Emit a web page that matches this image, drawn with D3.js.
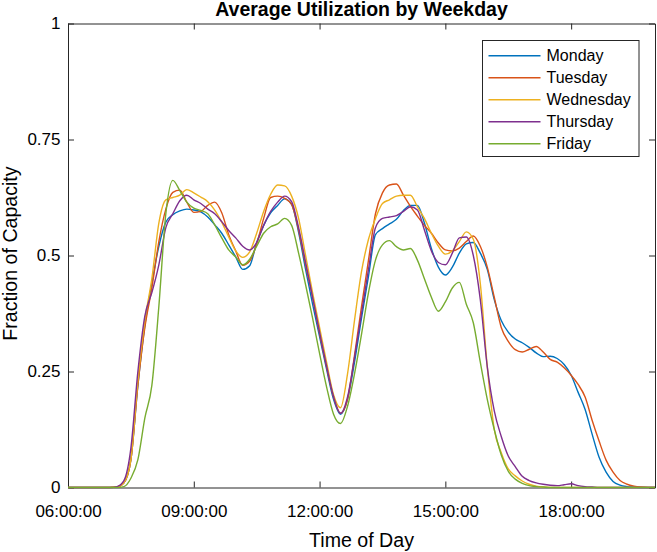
<!DOCTYPE html>
<html>
<head>
<meta charset="utf-8">
<script src="https://cdn.jsdelivr.net/npm/d3@7"></script>
<style>
  html, body { margin: 0; padding: 0; background: #fff; }
  svg { display: block; font-family: "Liberation Sans", Arial, Helvetica, sans-serif; }
</style>
</head>
<body>
<svg id="chart" width="657" height="552"></svg>
<script>
// ---------- data (10-minute samples, 06:00 .. 20:00) ----------
const times = [];
for (let h = 6; h <= 20; h++) {
  for (let m = 0; m < 60; m += 10) {
    if (h === 20 && m > 0) break;
    times.push(String(h).padStart(2, "0") + ":" + String(m).padStart(2, "0"));
  }
}

const monday = [
  0,0,0,0,0,0,                              // 06
  0,0.001,0.01,0.06,0.22,0.35,              // 07
  0.44,0.52,0.572,0.588,0.596,0.6,          // 08
  0.598,0.594,0.583,0.566,0.548,0.523,      // 09
  0.497,0.47,0.478,0.528,0.565,0.592,       // 10
  0.608,0.622,0.61,0.55,0.47,0.395,         // 11
  0.325,0.255,0.19,0.158,0.19,0.27,         // 12
  0.365,0.455,0.545,0.558,0.568,0.578,      // 13
  0.597,0.608,0.608,0.57,0.515,0.475,       // 14
  0.458,0.475,0.505,0.525,0.528,0.505,      // 15
  0.47,0.405,0.36,0.335,0.32,0.312,         // 16
  0.302,0.29,0.282,0.283,0.278,0.265,       // 17
  0.242,0.205,0.168,0.115,0.065,0.033,      // 18
  0.013,0.005,0.002,0.001,0,0,              // 19
  0                                         // 20
];
const tuesday = [
  0,0,0,0,0,0,
  0,0.001,0.01,0.06,0.22,0.345,
  0.43,0.53,0.6,0.636,0.641,0.615,
  0.593,0.595,0.608,0.615,0.592,0.545,
  0.51,0.479,0.488,0.525,0.58,0.625,
  0.628,0.623,0.61,0.555,0.48,0.41,
  0.332,0.26,0.195,0.16,0.19,0.285,
  0.39,0.49,0.59,0.635,0.652,0.654,
  0.63,0.606,0.585,0.565,0.548,0.527,
  0.512,0.51,0.516,0.53,0.542,0.52,
  0.475,0.41,0.345,0.315,0.297,0.292,
  0.298,0.304,0.292,0.276,0.27,0.258,
  0.242,0.222,0.195,0.145,0.1,0.059,
  0.033,0.015,0.007,0.003,0.001,0,
  0
];
const wednesday = [
  0,0,0,0,0,0,
  0,0.001,0.01,0.06,0.23,0.36,
  0.45,0.57,0.62,0.625,0.63,0.642,
  0.635,0.626,0.616,0.598,0.572,0.54,
  0.51,0.496,0.508,0.548,0.595,0.632,
  0.652,0.65,0.628,0.58,0.5,0.42,
  0.345,0.27,0.2,0.172,0.245,0.36,
  0.465,0.535,0.58,0.612,0.62,0.628,
  0.63,0.63,0.605,0.58,0.548,0.52,
  0.503,0.51,0.53,0.551,0.535,0.44,
  0.26,0.125,0.075,0.04,0.025,0.014,
  0.007,0.003,0.001,0,0,0,
  0,0,0,0,0,0,
  0,0,0,0,0,0,
  0
];
const thursday = [
  0,0,0,0,0,0,
  0,0.002,0.015,0.085,0.25,0.37,
  0.42,0.48,0.56,0.59,0.618,0.63,
  0.62,0.612,0.6,0.59,0.573,0.554,
  0.538,0.52,0.512,0.528,0.565,0.595,
  0.615,0.628,0.616,0.56,0.485,0.41,
  0.335,0.262,0.196,0.16,0.195,0.28,
  0.375,0.47,0.56,0.58,0.583,0.586,
  0.595,0.605,0.598,0.555,0.51,0.485,
  0.48,0.505,0.538,0.54,0.5,0.405,
  0.26,0.165,0.11,0.068,0.045,0.024,
  0.015,0.01,0.007,0.005,0.004,0.006,
  0.008,0.004,0.002,0.001,0,0,
  0,0,0,0,0,0,
  0
];
const friday = [
  0,0,0,0,0,0,
  0,0,0.002,0.02,0.06,0.15,
  0.22,0.39,0.59,0.662,0.64,0.615,
  0.602,0.597,0.59,0.566,0.538,0.512,
  0.497,0.48,0.492,0.52,0.548,0.562,
  0.568,0.58,0.565,0.505,0.437,0.365,
  0.289,0.217,0.158,0.138,0.175,0.245,
  0.33,0.42,0.49,0.523,0.532,0.519,
  0.512,0.515,0.49,0.45,0.41,0.38,
  0.4,0.43,0.442,0.395,0.355,0.27,
  0.19,0.125,0.07,0.035,0.018,0.009,
  0.004,0.002,0.001,0,0,0,
  0,0,0,0,0,0,
  0,0,0,0,0,0,
  0
];

const seriesNames = ["Monday", "Tuesday", "Wednesday", "Thursday", "Friday"];
const seriesValues = [monday, tuesday, wednesday, thursday, friday];
const seriesColors = ["#0072BD", "#D95319", "#EDB120", "#7E2F8E", "#77AC30"];

const xTickValues = [6, 9, 12, 15, 18];
const xTickLabels = ["06:00:00", "09:00:00", "12:00:00", "15:00:00", "18:00:00"];
const yTickValues = [0, 0.25, 0.5, 0.75, 1];
const yTickLabels = ["0", "0.25", "0.5", "0.75", "1"];

const titleText = "Average Utilization by Weekday";
const xLabelText = "Time of Day";
const yLabelText = "Fraction of Capacity";

// ---------- layout ----------
const plot = { left: 68, right: 655, top: 23.5, bottom: 487.5 };
const axisColor = "#262626";

const svg = d3.select("#chart");

const toHours = t => { const [h, m] = t.split(":").map(Number); return h + m / 60; };

const x = d3.scaleLinear().domain([6, 20]).range([plot.left, plot.right]);
const y = d3.scaleLinear().domain([0, 1]).range([plot.bottom, plot.top]);

svg.append("rect").attr("x", 0).attr("y", 0).attr("width", 657).attr("height", 552).attr("fill", "#fff");

// clip
svg.append("defs").append("clipPath").attr("id", "clip")
  .append("rect").attr("x", plot.left).attr("y", plot.top - 2)
  .attr("width", plot.right - plot.left).attr("height", plot.bottom - plot.top + 3);

function styleAxis(g) {
  g.select(".domain").attr("stroke", axisColor).attr("stroke-width", 1);
  g.selectAll(".tick line").attr("stroke", axisColor).attr("stroke-width", 1);
  g.selectAll(".tick text").attr("fill", "#000").style("font-size", "17px")
    .style("font-family", '"Liberation Sans", Arial, Helvetica, sans-serif');
}

// bottom axis
const gx = svg.append("g").attr("transform", `translate(0,${plot.bottom})`)
  .call(d3.axisBottom(x).tickValues(xTickValues)
    .tickFormat((d, i) => xTickLabels[i])
    .tickSizeInner(-6).tickSizeOuter(0).tickPadding(17.5));
styleAxis(gx);

// top axis
const gxt = svg.append("g").attr("transform", `translate(0,${plot.top})`)
  .call(d3.axisTop(x).tickValues(xTickValues).tickFormat("")
    .tickSizeInner(-6).tickSizeOuter(0));
styleAxis(gxt);

// left axis
const gy = svg.append("g").attr("transform", `translate(${plot.left},0)`)
  .call(d3.axisLeft(y).tickValues(yTickValues)
    .tickFormat((d, i) => yTickLabels[i])
    .tickSizeInner(-6).tickSizeOuter(0).tickPadding(7.5));
styleAxis(gy);

// right axis
const gyr = svg.append("g").attr("transform", `translate(${plot.right},0)`)
  .call(d3.axisRight(y).tickValues(yTickValues).tickFormat("")
    .tickSizeInner(-6).tickSizeOuter(0));
styleAxis(gyr);

// lines
const line = d3.line()
  .x((d, i) => x(toHours(times[i])))
  .y(d => y(d))
  .curve(d3.curveMonotoneX);

const linesG = svg.append("g").attr("clip-path", "url(#clip)");
seriesValues.forEach((vals, k) => {
  linesG.append("path")
    .datum(vals)
    .attr("fill", "none")
    .attr("stroke", seriesColors[k])
    .attr("stroke-width", 1.4)
    .attr("stroke-linejoin", "round")
    .attr("d", line);
});

// title
svg.append("text")
  .attr("x", (plot.left + plot.right) / 2).attr("y", 15.5)
  .attr("text-anchor", "middle")
  .style("font-size", "19.5px").style("font-weight", "bold")
  .attr("fill", "#000")
  .text(titleText);

// x label
svg.append("text")
  .attr("x", (plot.left + plot.right) / 2).attr("y", 546.5)
  .attr("text-anchor", "middle")
  .style("font-size", "19.6px")
  .attr("fill", "#000")
  .text(xLabelText);

// y label
svg.append("text")
  .attr("transform", `translate(17,${(plot.top + plot.bottom) / 2 - 2}) rotate(-90)`)
  .attr("text-anchor", "middle")
  .style("font-size", "19.6px")
  .attr("fill", "#000")
  .text(yLabelText);

// legend
const legend = { x: 482.5, y: 40.5, w: 156.5, h: 116, row0: 55.7, rowStep: 22 };
svg.append("rect")
  .attr("x", legend.x).attr("y", legend.y)
  .attr("width", legend.w).attr("height", legend.h)
  .attr("fill", "#fff").attr("stroke", axisColor).attr("stroke-width", 1);

seriesNames.forEach((name, k) => {
  const yy = legend.row0 + k * legend.rowStep;
  svg.append("line")
    .attr("x1", 488.5).attr("x2", 540.5)
    .attr("y1", yy).attr("y2", yy)
    .attr("stroke", seriesColors[k]).attr("stroke-width", 1.4);
  svg.append("text")
    .attr("x", 546.5).attr("y", yy)
    .attr("dy", "0.35em")
    .style("font-size", "16px")
    .attr("fill", "#000")
    .text(name);
});
</script>
</body>
</html>
